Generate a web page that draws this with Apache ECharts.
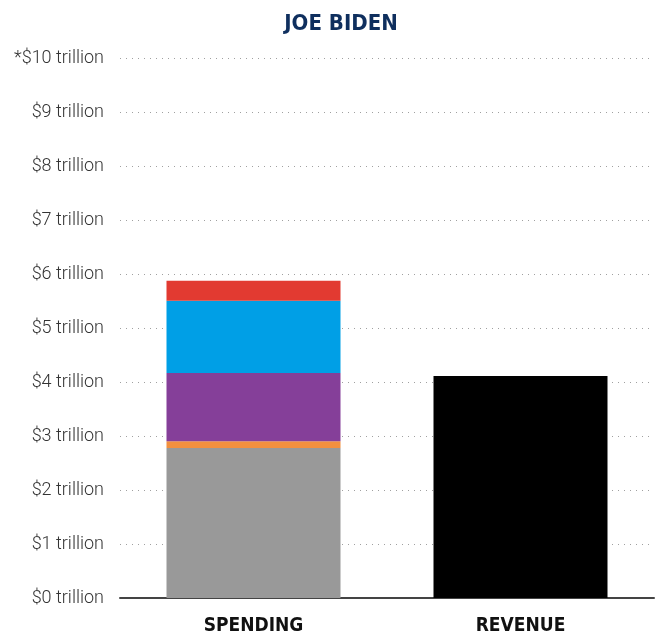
<!DOCTYPE html>
<html>
<head>
<meta charset="utf-8">
<title>Joe Biden: Spending and Revenue</title>
<script src="https://cdn.jsdelivr.net/npm/echarts@6/dist/echarts.min.js"></script>
<style>
  html, body { margin: 0; padding: 0; background: #ffffff; }
  #chart { width: 657px; height: 637px; }
</style>
</head>
<body>
<div id="chart"></div>
<script>
// Column categories
const categories = ['SPENDING', 'REVENUE'];

// Spending components, stacked bottom to top (trillions of dollars)
const spendingBase = [2.78, '-'];
const spendingOrange = [0.125, '-'];
const spendingPurple = [1.26, '-'];
const spendingBlue = [1.34, '-'];
const spendingRed = [0.37, '-'];

// Revenue (trillions of dollars)
const revenue = ['-', 4.11];

// Value-axis tick range
const axisMin = 0;
const axisMax = 10;
const axisStep = 1;

const condensed = '"DejaVu Sans Condensed", "DejaVu Sans", sans-serif';

const chart = echarts.init(document.getElementById('chart'), null, { renderer: 'canvas' });

function stackSeries(name, data, color) {
  return {
    name: name,
    type: 'bar',
    stack: 'total',
    data: data,
    barWidth: 174,
    itemStyle: { color: color },
    emphasis: { disabled: true },
    animation: false
  };
}

chart.setOption({
  animation: false,
  title: {
    text: 'JOE BIDEN',
    left: 336,
    textAlign: 'center',
    top: 8,
    textStyle: {
      fontFamily: condensed,
      fontWeight: 'bold',
      fontSize: 22,
      color: '#0f2f5e'
    }
  },
  grid: { left: 120, right: 3, top: 58, bottom: 39, containLabel: false },
  xAxis: {
    type: 'category',
    data: categories,
    axisTick: { show: false },
    axisLine: { show: true, lineStyle: { color: '#444444', width: 2 } },
    axisLabel: {
      margin: 19,
      fontFamily: condensed,
      fontWeight: 'bold',
      fontSize: 19,
      color: '#111111'
    }
  },
  yAxis: {
    type: 'value',
    min: axisMin,
    max: axisMax,
    interval: axisStep,
    axisLine: { show: false },
    axisTick: { show: false },
    splitLine: {
      show: true,
      lineStyle: { color: '#a0a0a0', width: 1, type: [1, 5] }
    },
    axisLabel: {
      margin: 16,
      fontFamily: 'Roboto',
      fontWeight: 300,
      fontSize: 18,
      color: '#333333',
      formatter: function (v) {
        return (v === axisMax ? '*' : '') + '$' + v + ' trillion';
      }
    }
  },
  series: [
    stackSeries('Base', spendingBase, '#999999'),
    stackSeries('Orange', spendingOrange, '#f2903f'),
    stackSeries('Purple', spendingPurple, '#853f99'),
    stackSeries('Blue', spendingBlue, '#009fe6'),
    stackSeries('Red', spendingRed, '#e23a31'),
    stackSeries('Revenue', revenue, '#000000')
  ]
});
</script>
</body>
</html>
